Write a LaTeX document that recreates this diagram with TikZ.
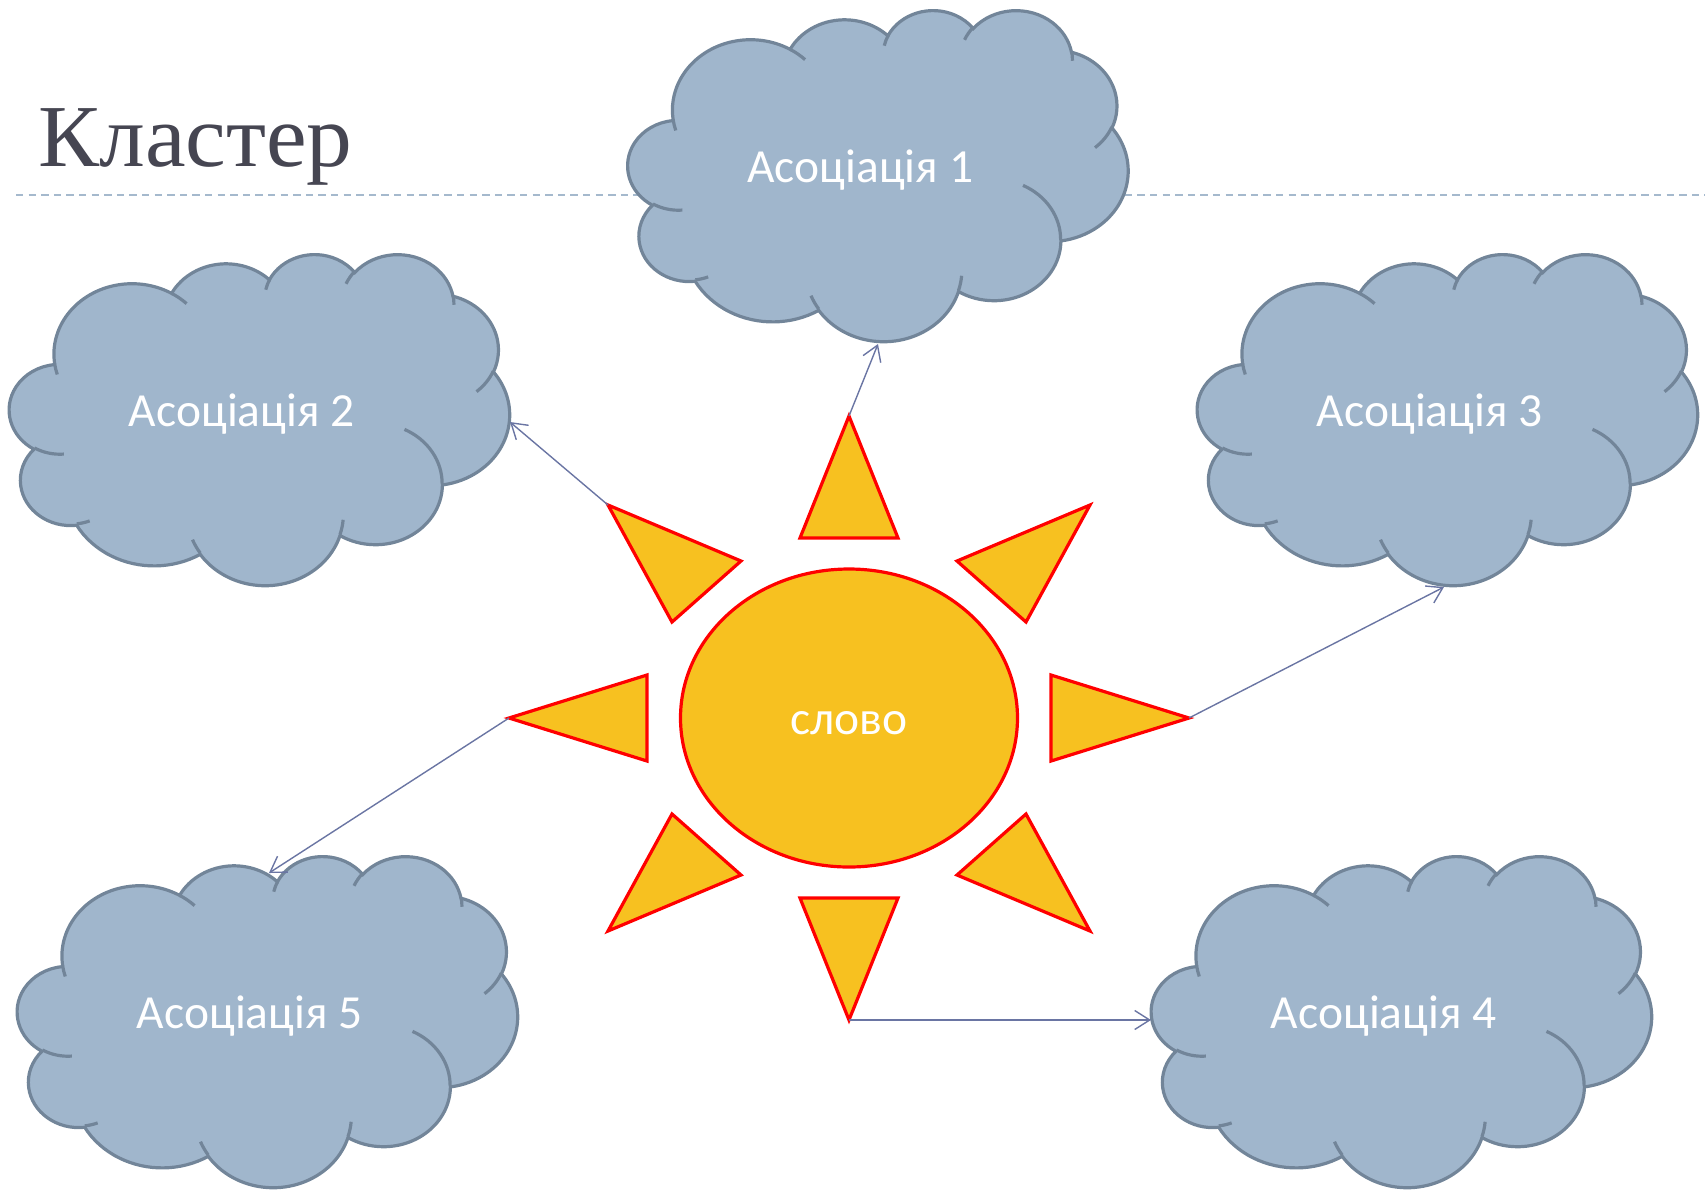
\documentclass[tikz,border=0pt]{standalone}
\usepackage{fontspec}
\setmainfont{Liberation Serif}
\newfontfamily\titlefont[FakeStretch=1.035]{Liberation Serif}
\newfontfamily\labfont{Carlito}
\usetikzlibrary{arrows.meta,shapes.geometric}
\definecolor{cloudfill}{HTML}{A0B6CC}
\definecolor{cloudline}{HTML}{728599}
\definecolor{sunfill}{HTML}{F7C120}
\definecolor{sunline}{HTML}{FF0000}
\definecolor{connline}{HTML}{6A75A3}
\definecolor{titlecol}{HTML}{464652}
\definecolor{dashcol}{HTML}{A5B9CD}
% geometric angle -> parametric angle for an elliptic arc
\newcommand\defarc[6]{%
  \pgfmathsetmacro\tmpS{atan2((#3)*sin(#5),(#4)*cos(#5))}%
  \pgfmathsetmacro\tmpE{atan2((#3)*sin((#5)+(#6)),(#4)*cos((#5)+(#6)))}%
  \pgfmathsetmacro\tmpD{mod(\tmpE-\tmpS+720,360)}%
  \global\let#1\tmpS \global\let#2\tmpD}
\newcommand\cloudAt[2]{%
\begin{scope}[shift={(#1,#2)}, xscale=11.574074, yscale=7.662037]
 \filldraw[cloudstyle] (3.900,14.370)
  arc[start angle=\clSa, delta angle=\clDa, x radius=6.753pt, y radius=9.190pt]
  arc[start angle=\clSb, delta angle=\clDb, x radius=5.333pt, y radius=7.267pt]
  arc[start angle=\clSc, delta angle=\clDc, x radius=4.365pt, y radius=5.945pt]
  arc[start angle=\clSd, delta angle=\clDd, x radius=4.857pt, y radius=6.595pt]
  arc[start angle=\clSe, delta angle=\clDe, x radius=5.333pt, y radius=7.273pt]
  arc[start angle=\clSf, delta angle=\clDf, x radius=6.775pt, y radius=9.220pt]
  arc[start angle=\clSg, delta angle=\clDg, x radius=5.785pt, y radius=7.867pt]
  arc[start angle=\clSh, delta angle=\clDh, x radius=6.752pt, y radius=9.215pt]
  arc[start angle=\clSi, delta angle=\clDi, x radius=7.720pt, y radius=10.543pt]
  arc[start angle=\clSj, delta angle=\clDj, x radius=4.360pt, y radius=5.918pt]
  arc[start angle=\clSk, delta angle=\clDk, x radius=4.345pt, y radius=5.945pt]
  -- cycle;
 \draw[cloudstyle, fill=none]
  (4.693,26.177) arc[start angle=\inSa, delta angle=\inDa, x radius=4.345pt, y radius=5.945pt]
  (6.928,34.899) arc[start angle=\inSb, delta angle=\inDb, x radius=4.360pt, y radius=5.918pt]
  (16.478,39.090) arc[start angle=\inSc, delta angle=\inDc, x radius=6.752pt, y radius=9.215pt]
  (28.827,34.751) arc[start angle=\inSd, delta angle=\inDd, x radius=6.752pt, y radius=9.215pt]
  (34.129,22.954) arc[start angle=\inSe, delta angle=\inDe, x radius=5.785pt, y radius=7.867pt]
  (41.798,15.354) arc[start angle=\inSf, delta angle=\inDf, x radius=5.333pt, y radius=7.273pt]
  (38.324,5.426) arc[start angle=\inSg, delta angle=\inDg, x radius=4.857pt, y radius=6.595pt]
  (29.078,3.952) arc[start angle=\inSh, delta angle=\inDh, x radius=4.857pt, y radius=6.595pt]
  (22.141,4.720) arc[start angle=\inSi, delta angle=\inDi, x radius=4.365pt, y radius=5.945pt]
  (14.000,5.192) arc[start angle=\inSj, delta angle=\inDj, x radius=6.753pt, y radius=9.190pt]
  (4.127,15.789) arc[start angle=\inSk, delta angle=\inDk, x radius=6.753pt, y radius=9.190pt];
\end{scope}}
\begin{document}
\begin{tikzpicture}[x=1pt, y=1pt, scale=0.5, yscale=-1,
  cloudstyle/.style={draw=cloudline, fill=cloudfill, line width=1.6pt},
  sunray/.style={draw=sunline, fill=sunfill, line width=1.6pt},
  connarrow/.style={draw=connline, line width=0.7pt, -{Straight Barb[length=7.5pt,width=9.5pt,line width=0.7pt]}},
  labstyle/.style={font=\labfont\fontsize{23.75}{28}\selectfont, text=white, inner sep=0pt}]
\defarc\clSa\clDa{6.753}{9.190}{-190.487483}{123.780533}
\defarc\clSb\clDb{5.333}{7.267}{-144.102383}{89.945233}
\defarc\clSc\clDc{4.365}{5.945}{-145.807917}{99.723017}
\defarc\clSd\clDd{4.857}{6.595}{-130.986067}{117.241733}
\defarc\clSe\clDe{5.333}{7.273}{-78.708883}{109.026917}
\defarc\clSf\clDf{6.775}{9.220}{-46.26725}{130.269}
\defarc\clSg\clDg{5.785}{7.867}{0.625017}{114.033333}
\defarc\clSh\clDh{6.752}{9.215}{22.4516}{115.17255}
\defarc\clSi\clDi{7.720}{10.543}{66.242633}{75.711017}
\defarc\clSj\clDj{4.360}{5.918}{-274.942083}{146.735567}
\defarc\clSk\clDk{4.345}{5.945}{-246.8285}{152.51885}
\defarc\inSa\inDa{4.345}{5.945}{86.742}{26.4295}
\defarc\inSb\inDb{4.360}{5.918}{73.610467}{11.447467}
\defarc\inSc\inDc{6.752}{9.215}{137.62415}{14.0811}
\defarc\inSd\inDd{6.752}{9.215}{6.453267}{15.99835}
\defarc\inSe\inDe{5.785}{7.867}{-70.29235}{70.917367}
\defarc\inSf\inDf{5.333}{7.273}{30.318033}{27.7515}
\defarc\inSg\inDg{4.857}{6.595}{-13.744333}{14.8589}
\defarc\inSh\inDh{4.857}{6.595}{-149.18145}{18.195367}
\defarc\inSi\inDi{4.365}{5.945}{-163.494267}{17.68635}
\defarc\inSj\inDj{6.753}{9.190}{-66.70695}{12.31935}
\defarc\inSk\inDk{6.753}{9.190}{157.65435}{11.858167}
\useasboundingbox (0,0) rectangle (1705,1191);
% title and rule
\node[anchor=base west, inner sep=0pt, text=titlecol, font=\titlefont\fontsize{44.2}{50}\selectfont] (title) at (38,166) {Кластер};
\coordinate (ruleL) at (16,195);
\coordinate (ruleR) at (1705,195);
\draw[dashcol, line width=0.75pt, dash pattern=on 3.7pt off 2.6pt] (ruleL) -- (ruleR);
% clouds
\cloudAt{628}{9.5}
\cloudAt{9.5}{253.5}
\cloudAt{1197.5}{253.5}
\cloudAt{1151.5}{855.5}
\cloudAt{17.5}{855.5}
\node[labstyle, anchor=base] (a1) at (860.3,182.5) {Асоціація 1};
\node[labstyle, anchor=base] (a2) at (241.8,426.5) {Асоціація 2};
\node[labstyle, anchor=base] (a3) at (1429.8,426.5) {Асоціація 3};
\node[labstyle, anchor=base] (a4) at (1383.8,1028.5) {Асоціація 4};
\node[labstyle, anchor=base] (a5) at (249.8,1028.5) {Асоціація 5};
% sun
\node[ellipse, draw=sunline, fill=sunfill, line width=1.6pt, inner sep=0pt,
      minimum width=168.5pt, minimum height=149pt] (sun) at (849,718) {};
\node[labstyle, anchor=base] (word) at (849,734) {слово};
\coordinate (tN) at (849,416);
\coordinate (tNE) at (1090,505);
\coordinate (tE) at (1189,718);
\coordinate (tSE) at (1090,931);
\coordinate (tS) at (849,1020);
\coordinate (tSW) at (608,931);
\coordinate (tW) at (509,718);
\coordinate (tNW) at (608,505);
\draw[sunray] (tN) -- (800,538) -- (898,538) -- cycle;
\draw[sunray] (tNE) -- (957,561) -- (1026,622) -- cycle;
\draw[sunray] (tE) -- (1051,675) -- (1051,761) -- cycle;
\draw[sunray] (tSE) -- (957,875) -- (1026,814) -- cycle;
\draw[sunray] (tS) -- (800,898) -- (898,898) -- cycle;
\draw[sunray] (tSW) -- (741,875) -- (672,814) -- cycle;
\draw[sunray] (tW) -- (647,675) -- (647,761) -- cycle;
\draw[sunray] (tNW) -- (741,561) -- (672,622) -- cycle;
% connector ends on the clouds
\coordinate (c1in) at (878,344);
\coordinate (c2in) at (510,422);
\coordinate (c3in) at (1444,587);
\coordinate (c4in) at (1151,1020);
\coordinate (c5in) at (269,873);
\draw[connarrow] (tN) -- (c1in);
\draw[connarrow] (tNW) -- (c2in);
\draw[connarrow] (tE) -- (c3in);
\draw[connarrow] (tS) -- (c4in);
\draw[connarrow] (tW) -- (c5in);
\end{tikzpicture}
\end{document}
